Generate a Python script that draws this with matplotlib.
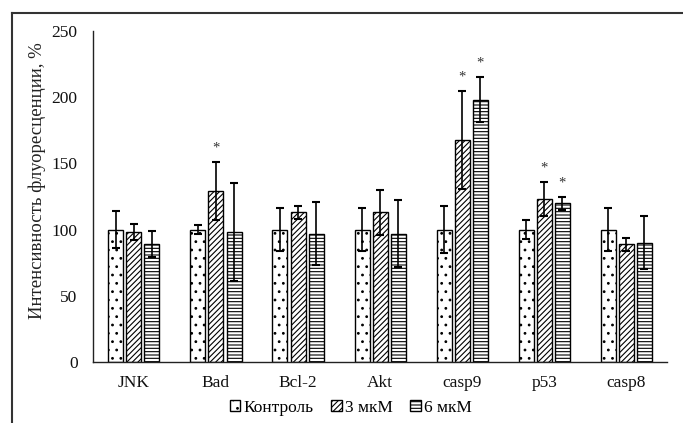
import numpy as np
import matplotlib.pyplot as plt
from matplotlib.lines import Line2D

plt.rcParams['font.family'] = ['Liberation Serif', 'DejaVu Serif']
plt.rcParams['hatch.linewidth'] = 0.8

genes = ['JNK', 'Bad', 'Bcl-2', 'Akt', 'casp9', 'p53', 'casp8']
series = ['Контроль', '3 мкМ', '6 мкМ']

control = [100, 100, 100, 100, 100, 100, 100]
control_err = [14, 3.5, 16, 16, 18, 7, 16]
dose3 = [98, 129, 113, 113, 168, 123, 89]
dose3_err = [6, 22, 5, 17, 37, 13, 5]
dose6 = [89, 98, 97, 97, 198, 120, 90]
dose6_err = [10, 37, 24, 25, 17, 5, 20]

# звездочки (достоверные отличия)
stars3 = [False, True, False, False, True, True, False]
stars6 = [False, False, False, False, True, True, False]

fig = plt.figure(figsize=(6.83, 4.23), dpi=100)
ax = fig.add_axes([0.136, 0.1442, 0.841, 0.7825])

x = np.arange(len(genes))
w = 0.183
step = 0.22
hatches = ['..', '//////', '-----']
vals = [control, dose3, dose6]
errs = [control_err, dose3_err, dose6_err]
stars = [[False] * len(genes), stars3, stars6]

for i in range(3):
    pos = x + (i - 1) * step
    ax.bar(pos, vals[i], w, color='white', edgecolor='black', linewidth=1.0,
           hatch=hatches[i], label=series[i], zorder=2)
    ax.errorbar(pos, vals[i], yerr=errs[i], fmt='none', ecolor='black',
                elinewidth=1.2, capsize=3, capthick=1.5, zorder=3)
    for j in range(len(genes)):
        if stars[i][j]:
            ax.annotate('*', (pos[j], vals[i][j] + errs[i][j]),
                        xytext=(0, 10), textcoords='offset points',
                        ha='center', va='center', fontsize=10.5, color='#333333')

ax.set_xlim(-0.5, 6.5)
ax.set_ylim(0, 250)
ax.set_yticks([0, 50, 100, 150, 200, 250])
ax.set_xticks(x)
ax.set_xticklabels(genes)
ax.tick_params(axis='both', length=0, labelsize=12.5, colors='#111111')
ax.tick_params(axis='y', pad=11)
ax.tick_params(axis='x', pad=9)
for s in ['top', 'right']:
    ax.spines[s].set_visible(False)
for s in ['left', 'bottom']:
    ax.spines[s].set_linewidth(1.0)
    ax.spines[s].set_color('#222222')

fig.text(0.054, 0.572, 'Интенсивность флуоресценции, %', rotation=90,
         ha='center', va='center', fontsize=13.5, color='#222222')

leg = fig.legend(loc='center', bbox_to_anchor=(0.514, 0.036), ncol=3,
                 frameon=False, fontsize=12.5, handlelength=0.6, handleheight=0.6,
                 handletextpad=0.2, columnspacing=1.0)

# рамка вокруг рисунка
fig.add_artist(Line2D([12 / 683, 1.0], [1 - 13 / 423, 1 - 13 / 423],
                      transform=fig.transFigure, color='#333333', linewidth=1.5))
fig.add_artist(Line2D([12 / 683, 12 / 683], [0, 1 - 13 / 423],
                      transform=fig.transFigure, color='#333333', linewidth=1.5))

fig.savefig('out.png', dpi=100)
